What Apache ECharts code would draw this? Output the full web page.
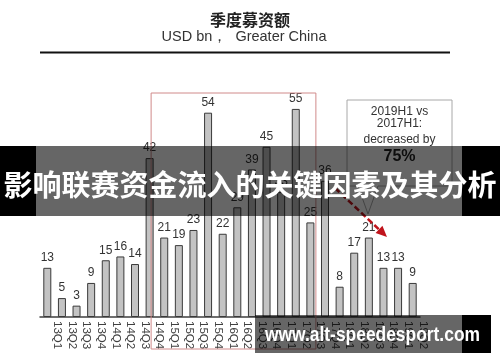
<!DOCTYPE html>
<html><head><meta charset="utf-8">
<script src="https://cdn.jsdelivr.net/npm/echarts@6/dist/echarts.min.js"></script>
<style>html,body{margin:0;padding:0;background:#fff}#c{width:500px;height:362px}</style>
</head><body><div id="c"></div>
<script>
const categories = ['13Q1','13Q2','13Q3','13Q4','14Q1','14Q2','14Q3','14Q4','15Q1','15Q2','15Q3','15Q4','16Q1','16Q2','16Q3','16Q4','17Q1','17Q2','17Q3','17Q4','18Q1','18Q2','18Q3','18Q4','19Q1','19Q2'];
const values = [13,5,3,9,15,16,14,42,21,19,23,54,22,29,39,45,33,55,25,36,8,17,21,13,13,9];
const titleText = '季度募资额';
const subtitleText = 'USD bn，  Greater China';
const calloutLines = ['2019H1 vs', '2017H1:', 'decreased by'];
const calloutPct = '75%';
const bannerText = '影响联赛资金流入的关键因素及其分析';
const watermarkText = 'www.alt-speedesport.com';

const chart = echarts.init(document.getElementById('c'), null, {renderer: 'canvas'});
const latin = 'Liberation Sans, Arial, sans-serif';
const cjk = 'Noto Sans CJK SC, sans-serif';

chart.setOption({
  animation: false,
  backgroundColor: '#fff',
  grid: {left: 40, right: 80, top: 90, bottom: 45},
  xAxis: {
    type: 'category', data: categories,
    axisLine: {lineStyle: {color: '#404040', width: 1.5}},
    axisTick: {show: false},
    axisLabel: {rotate: -90, margin: 4, color: '#404040', fontSize: 11.5, fontFamily: latin,
      verticalAlign: 'bottom', lineHeight: 20, interval: 0}
  },
  yAxis: {type: 'value', min: 0, max: 60, show: false, splitLine: {show: false}},
  series: [{
    type: 'bar', data: values, barWidth: 8,
    itemStyle: {color: '#c3c3c3', borderColor: '#3a3a3a', borderWidth: 1},
    label: {show: true, position: 'top', distance: 4, color: '#333', fontSize: 12, fontFamily: latin}
  }]
});

const px = (i, v) => chart.convertToPixel({seriesIndex: 0}, [i, v]);
const boxL = px(7, 0)[0] + 1.5, boxR = px(18, 0)[0] + 5.5;
const s = [335, 188], t = [387, 237];
const dx = t[0] - s[0], dy = t[1] - s[1], len = Math.hypot(dx, dy);
const ux = dx / len, uy = dy / len, nx = -uy, ny = ux;
const b = [t[0] - 11 * ux, t[1] - 11 * uy];

const graphics = [
  {type: 'text', left: 'center', top: 12, style: {text: titleText, font: 'bold 16px ' + cjk, fill: '#222'}},
  {type: 'text', x: 244, y: 37, style: {text: subtitleText, font: '14.5px ' + latin, fill: '#333', align: 'center', verticalAlign: 'middle'}},
  {type: 'line', shape: {x1: 40, y1: 52.5, x2: 450, y2: 52.5}, style: {stroke: '#111', lineWidth: 2}},
  {type: 'rect', shape: {x: boxL, y: 93, width: boxR - boxL, height: 256}, style: {fill: 'none', stroke: '#d08a8a', lineWidth: 1}, z: 10},
  {type: 'polygon', shape: {points: [[347,100],[452,100],[452,186],[378,186],[368,214],[358,186],[347,186]]}, style: {fill: '#fff', stroke: '#a8a8a8', lineWidth: 1}, z: 10},
  {type: 'text', x: 399.5, y: 111.5, style: {text: calloutLines[0], font: '12px ' + latin, fill: '#333', align: 'center', verticalAlign: 'middle'}, z: 11},
  {type: 'text', x: 399.5, y: 123.5, style: {text: calloutLines[1], font: '12px ' + latin, fill: '#333', align: 'center', verticalAlign: 'middle'}, z: 11},
  {type: 'text', x: 399.5, y: 139.5, style: {text: calloutLines[2], font: '12px ' + latin, fill: '#333', align: 'center', verticalAlign: 'middle'}, z: 11},
  {type: 'text', x: 399.5, y: 157, style: {text: calloutPct, font: 'bold 16px ' + latin, fill: '#222', align: 'center', verticalAlign: 'middle'}, z: 11},
  {type: 'line', shape: {x1: s[0], y1: s[1], x2: b[0], y2: b[1]}, style: {stroke: '#c0141c', lineWidth: 2.5, lineDash: [6, 3]}, z: 12},
  {type: 'polygon', shape: {points: [t, [b[0] + 5 * nx, b[1] + 5 * ny], [b[0] - 5 * nx, b[1] - 5 * ny]]}, style: {fill: '#c0141c'}, z: 12},
  // banner overlay
  {type: 'rect', shape: {x: 0, y: 146, width: 36, height: 70}, style: {fill: '#000'}, z: 20},
  {type: 'rect', shape: {x: 36, y: 146, width: 426, height: 70}, style: {fill: 'rgba(0,0,0,0.6)'}, z: 20},
  {type: 'rect', shape: {x: 462, y: 146, width: 38, height: 70}, style: {fill: '#000'}, z: 20},
  {type: 'text', x: 250, y: 185, style: {text: bannerText, font: 'bold 29px ' + cjk, fill: '#fff', align: 'center', verticalAlign: 'middle'}, z: 21},
  // watermark overlay
  {type: 'rect', shape: {x: 255, y: 315, width: 207, height: 38}, style: {fill: 'rgba(0,0,0,0.6)'}, z: 20},
  {type: 'rect', shape: {x: 462, y: 315, width: 29, height: 38}, style: {fill: '#000'}, z: 20},
  {type: 'text', x: 372.5, y: 335, scaleX: 0.87, originX: 0, originY: 0, style: {text: watermarkText, font: 'bold 20px ' + latin, fill: '#fff', align: 'center', verticalAlign: 'middle'}, z: 21}
];
chart.setOption({graphic: graphics});
</script></body></html>
